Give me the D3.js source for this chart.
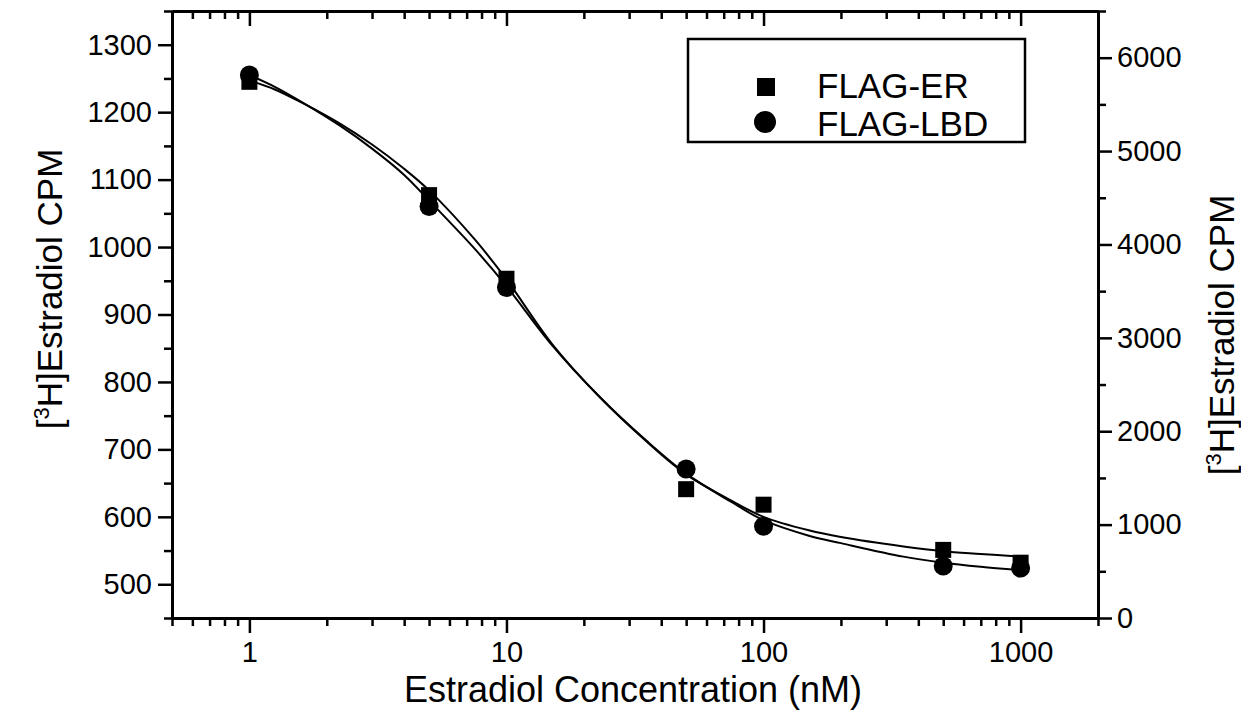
<!DOCTYPE html>
<html>
<head>
<meta charset="utf-8">
<script src="https://cdn.jsdelivr.net/npm/d3@7"></script>
<style>
  body { margin: 0; background: #fff; }
  text { font-family: Arial, "Liberation Sans", sans-serif; fill: #000; }
</style>
</head>
<body>
<svg id="chart" width="1241" height="725"></svg>
<script>
// measured points
const conc = [1, 5, 10, 50, 100, 500, 1000];
const flagER = [1245, 1077, 953, 641, 618, 551, 532];
const flagLBD = [1255, 1060, 940, 671, 586, 527, 524];

// fitted curves
const fitConc = [1, 1.25, 1.6, 2.25, 3, 4, 5, 7.5, 10, 15, 23, 35, 50, 75, 100, 150, 200, 350, 500, 700, 1000];
const fitER = [1247, 1234, 1214, 1183, 1152, 1116, 1084, 1012, 952, 857, 778, 712, 663, 624, 600, 580, 570, 556, 549, 545, 541];
const fitLBD = [1255, 1238, 1215, 1180, 1146, 1107, 1069, 998, 942, 855, 778, 713, 664, 622, 595, 572, 561, 541, 532, 526, 521];

const xMajor = [1, 10, 100, 1000];
const yLeftTicks = [500, 600, 700, 800, 900, 1000, 1100, 1200, 1300];
const yRightTicks = [0, 1000, 2000, 3000, 4000, 5000, 6000];

const svg = d3.select("#chart");
const pLeft = 172, pRight = 1098, pTop = 11, pBottom = 618;

const x = d3.scaleLog().domain([0.5, 2000]).range([pLeft, pRight]);
const y = d3.scaleLinear().domain([450, 1350]).range([pBottom, pTop]);
const y2 = d3.scaleLinear().domain([0, 6500]).range([pBottom, pTop]);

// minor ticks on log axis
var xMinor = [];
[0.1, 1, 10, 100, 1000].forEach(function(d) {
  for (let k = 2; k <= 9; k++) {
    const v = d * k;
    if (v >= 0.5 && v <= 2000) xMinor.push(v);
  }
});
const yLeftMinor = d3.range(450, 1351, 100);
const yRightMinor = d3.range(500, 6501, 1000);
const fmt = d3.format("d");

function styleAxis(g) {
  g.selectAll(".domain").attr("stroke-width", 3);
  g.selectAll(".tick line").attr("stroke-width", 2.5);
  g.selectAll(".tick text").style("font-size", "29px").style("font-family", "Arial, 'Liberation Sans', sans-serif");
}

// bottom axis
svg.append("g").attr("transform", `translate(0,${pBottom})`)
  .call(d3.axisBottom(x).tickValues(xMinor).tickSize(8).tickSizeOuter(0).tickFormat(""))
  .call(styleAxis);
svg.append("g").attr("transform", `translate(0,${pBottom})`)
  .call(d3.axisBottom(x).tickValues(xMajor).tickSize(15).tickSizeOuter(0).tickPadding(8).tickFormat(fmt))
  .call(styleAxis);

// top axis, ticks pointing inside
svg.append("g").attr("transform", `translate(0,${pTop})`)
  .call(d3.axisBottom(x).tickValues(xMinor).tickSize(8).tickSizeOuter(0).tickFormat(""))
  .call(styleAxis);
svg.append("g").attr("transform", `translate(0,${pTop})`)
  .call(d3.axisBottom(x).tickValues(xMajor).tickSize(15).tickSizeOuter(0).tickFormat(""))
  .call(styleAxis);

// left axis
svg.append("g").attr("transform", `translate(${pLeft},0)`)
  .call(d3.axisLeft(y).tickValues(yLeftMinor).tickSize(8).tickSizeOuter(0).tickFormat(""))
  .call(styleAxis);
svg.append("g").attr("transform", `translate(${pLeft},0)`)
  .call(d3.axisLeft(y).tickValues(yLeftTicks).tickSize(14).tickSizeOuter(0).tickPadding(6).tickFormat(fmt))
  .call(styleAxis);

// right axis
svg.append("g").attr("transform", `translate(${pRight},0)`)
  .call(d3.axisRight(y2).tickValues(yRightMinor).tickSize(8).tickSizeOuter(0).tickFormat(""))
  .call(styleAxis);
svg.append("g").attr("transform", `translate(${pRight},0)`)
  .call(d3.axisRight(y2).tickValues(yRightTicks).tickSize(14).tickSizeOuter(0).tickPadding(5).tickFormat(fmt))
  .call(styleAxis);

// fitted lines
const line = d3.line()
  .x(function(d) { return x(d[0]); })
  .y(function(d) { return y(d[1]); })
  .curve(d3.curveCatmullRom.alpha(0.5));

svg.append("path")
  .datum(d3.zip(fitConc, fitER))
  .attr("d", line).attr("fill", "none").attr("stroke", "#000").attr("stroke-width", 2);
svg.append("path")
  .datum(d3.zip(fitConc, fitLBD))
  .attr("d", line).attr("fill", "none").attr("stroke", "#000").attr("stroke-width", 2);

// markers
svg.selectAll("rect.er")
  .data(d3.zip(conc, flagER))
  .enter().append("rect")
  .attr("class", "er")
  .attr("x", function(d) { return x(d[0]) - 8; })
  .attr("y", function(d) { return y(d[1]) - 8; })
  .attr("width", 16).attr("height", 16)
  .attr("fill", "#000");

svg.selectAll("circle.lbd")
  .data(d3.zip(conc, flagLBD))
  .enter().append("circle")
  .attr("class", "lbd")
  .attr("cx", function(d) { return x(d[0]); })
  .attr("cy", function(d) { return y(d[1]); })
  .attr("r", 9.5)
  .attr("fill", "#000");

// axis titles
svg.append("text")
  .attr("x", 633).attr("y", 702)
  .attr("text-anchor", "middle")
  .style("font-size", "36px")
  .text("Estradiol Concentration (nM)");

function yTitle(xPos, yPos) {
  const t = svg.append("text")
    .attr("transform", `translate(${xPos},${yPos}) rotate(-90)`)
    .attr("text-anchor", "middle")
    .style("font-size", "35px");
  t.append("tspan").text("[");
  t.append("tspan").attr("dy", -13).style("font-size", "22px").text("3");
  t.append("tspan").attr("dy", 13).text("H]Estradiol CPM");
}
yTitle(62, 289);
yTitle(1234, 335);

// legend
const legend = svg.append("g");
legend.append("rect")
  .attr("x", 688).attr("y", 39).attr("width", 337).attr("height", 103)
  .attr("fill", "#fff").attr("stroke", "#000").attr("stroke-width", 2.5);
legend.append("rect")
  .attr("x", 757).attr("y", 78).attr("width", 18).attr("height", 18).attr("fill", "#000");
legend.append("circle")
  .attr("cx", 765).attr("cy", 122).attr("r", 11).attr("fill", "#000");
legend.append("text").attr("x", 817).attr("y", 98).style("font-size", "35px").text("FLAG-ER");
legend.append("text").attr("x", 817).attr("y", 136).style("font-size", "35px").text("FLAG-LBD");
</script>
</body>
</html>
